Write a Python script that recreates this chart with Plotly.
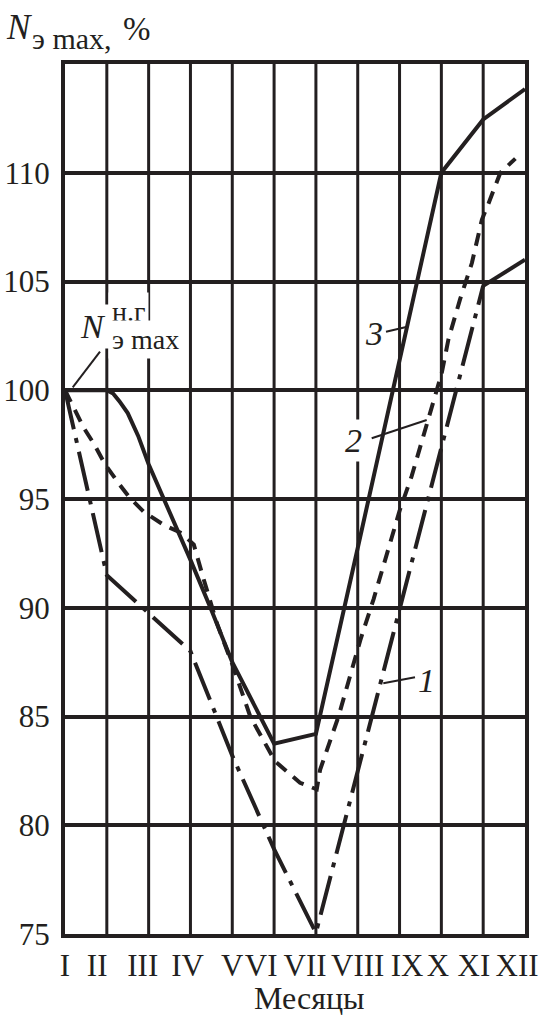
import plotly.graph_objects as go

# ---------------- data ----------------
MONTHS = ["I", "II", "III", "IV", "V", "VI", "VII", "VIII", "IX", "X", "XI", "XII"]
Y_TICKS = [75, 80, 85, 90, 95, 100, 105, 110]

# curve 1 (dash-dot)
C1_MONTH = [0, 1, 2, 3, 4, 5, 6, 7, 8, 9, 10]
C1_PCT = [100, 91.5, 89.75, 88.0, 83.2, 78.9, 75.05, 82.45, 89.85, 97.25, 104.8]
# curve 1, last (solid) segment
C1_TAIL_MONTH = [10, 11]
C1_TAIL_PCT = [104.8, 106.0]

# curve 2 (short dashes)
C2_MONTH = [0, 0.455, 0.694, 0.957, 1.29, 1.53, 1.89, 2.37, 2.8, 3.08, 3.31, 3.63, 4.0,
            4.43, 5.02, 5.62, 6.02, 6.1, 6.54, 7.06, 7.38, 8.0, 8.29, 8.53, 8.77, 9.01,
            9.17, 9.45, 9.73, 9.97, 10.13, 10.41, 10.77]
C2_PCT = [100, 98.25, 97.53, 96.6, 95.7, 95.1, 94.4, 93.8, 93.42, 92.9, 91.35, 89.3, 87.4,
          85.0, 82.95, 81.95, 81.65, 82.55, 85.0, 88.5, 90.4, 94.45, 96.05, 97.6, 99.25, 100.8,
          102.35, 104.2, 105.85, 107.85, 108.6, 110.0, 110.65]

# curve 3 (solid)
C3_MONTH = [0, 1, 1.15, 1.3, 1.5, 1.75, 2, 2.5, 3, 3.5, 4, 5, 6, 7, 8, 9, 10, 11]
C3_PCT = [100, 100, 99.85, 99.5, 98.95, 97.9, 96.6, 94.45, 92.2, 89.9, 87.5, 83.75, 84.2,
          92.75, 101.3, 110.0, 112.45, 113.85]

# ---------------- styling / layout helpers ----------------
INK = "#231f20"
FONT = "Times New Roman, Liberation Serif, Tinos, Times, serif"
W, H = 559, 1020
PL, PR, PT, PB = 65, 525, 64, 934          # plot-area pixel box
NX = len(MONTHS) - 1
Y_MIN, Y_MAX = 75, 115
# small horizontal nudges (in month units) of tick labels, as in the reference
LABEL_NUDGE = [0, -0.23, -0.14, -0.07, 0, -0.31, -0.26, 0, 0.18, -0.08, -0.22, -0.19]


def dx(xp):
    return (xp - PL) / (PR - PL) * NX


def dy(yp):
    return Y_MIN + (PB - yp) / (PB - PT) * (Y_MAX - Y_MIN)


def fx(xp):
    return (xp - PL) / (PR - PL)


def fy(yp):
    return (PB - yp) / (PB - PT)


fig = go.Figure()
LW = 4
fig.add_trace(go.Scatter(x=C1_MONTH, y=C1_PCT, mode="lines",
                         line=dict(color=INK, width=LW, dash="40px,9px,5px,9px"),
                         name="1", showlegend=False))
fig.add_trace(go.Scatter(x=C1_TAIL_MONTH, y=C1_TAIL_PCT, mode="lines",
                         line=dict(color=INK, width=LW), name="1", showlegend=False))
fig.add_trace(go.Scatter(x=C2_MONTH, y=C2_PCT, mode="lines",
                         line=dict(color=INK, width=LW, dash="13px,9px"),
                         name="2", showlegend=False))
fig.add_trace(go.Scatter(x=C3_MONTH, y=C3_PCT, mode="lines",
                         line=dict(color=INK, width=LW), name="3", showlegend=False))

# vertical grid lines (one per month)
for i in range(1, NX):
    fig.add_shape(type="line", xref="x", yref="paper", x0=i, x1=i, y0=0, y1=1,
                  line=dict(color=INK, width=3), layer="below")

# leader lines for labels
leaders = [((100, 351.7), (72.7, 387.3)),
           ((386, 331.7), (407.3, 326.7)),
           ((371.7, 438.3), (426.7, 420)),
           ((383.3, 683.3), (415, 677.3))]
for (a, b) in leaders:
    fig.add_shape(type="line", xref="x", yref="y", x0=dx(a[0]), y0=dy(a[1]),
                  x1=dx(b[0]), y1=dy(b[1]), line=dict(color=INK, width=2), layer="above")

ann = []


def text(t, xp, yp, size, xanchor="center", italic=False, bg=None, pad=1):
    s = f"<i>{t}</i>" if italic else t
    ann.append(dict(text=s, xref="paper", yref="paper", x=fx(xp), y=fy(yp),
                    xanchor=xanchor, yanchor="middle", showarrow=False,
                    font=dict(family=FONT, size=size, color=INK),
                    bgcolor=bg, borderpad=pad))


# axis title (top-left)
text("N", 18.7, 27.5, 35, italic=True)
text("э max,", 30, 38.5, 30, xanchor="left")
text("%", 137, 29, 33)
# x title
text("Месяцы", 309.5, 998, 32)
# label N н.г э max inside plot
text("N", 93.3, 326, 34, italic=True, bg="white", pad=3)
text("н.г", 108, 311.5, 28, xanchor="left", bg="white", pad=3)
text("э max", 108, 339, 28, xanchor="left", bg="white", pad=3)
# curve labels
text("3", 374, 333, 34, italic=True)
text("2", 353.5, 440, 34, italic=True, bg="white", pad=2)
text("1", 426.5, 680, 34, italic=True)

fig.update_layout(
    width=W, height=H,
    margin=dict(l=PL, r=W - PR, t=PT, b=H - PB, pad=0, autoexpand=False),
    paper_bgcolor="white", plot_bgcolor="white",
    annotations=ann,
    showlegend=False,
    xaxis=dict(range=[0, NX], showgrid=False, zeroline=False, automargin=False,
               showline=True, mirror=True, linewidth=LW, linecolor=INK,
               tickmode="array", tickvals=[i + n for i, n in zip(range(len(MONTHS)), LABEL_NUDGE)],
               ticktext=MONTHS, ticks="", tickangle=0, ticklabelstandoff=1,
               tickfont=dict(family=FONT, size=31, color=INK)),
    yaxis=dict(range=[Y_MIN, Y_MAX], tickmode="array", tickvals=Y_TICKS,
               showgrid=True, gridcolor=INK, gridwidth=3.5, zeroline=False, automargin=False,
               showline=True, mirror=True, linewidth=LW, linecolor=INK,
               ticks="", ticklabelstandoff=5,
               tickfont=dict(family=FONT, size=31, color=INK)),
)

fig.write_html("out.html")
